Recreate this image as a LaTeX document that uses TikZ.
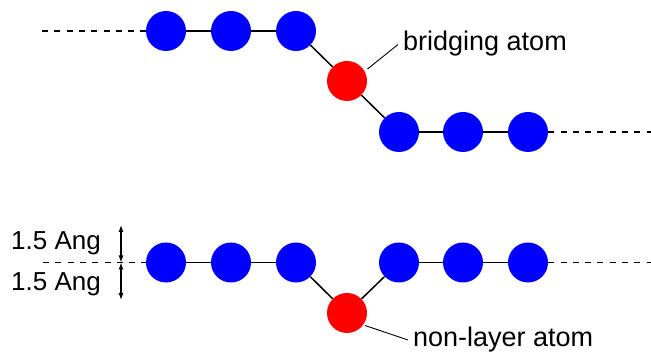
\documentclass[tikz,border=0pt]{standalone}
\usepackage{fontspec}
\setmainfont{Liberation Sans}
\usetikzlibrary{arrows.meta}
\tikzset{
  atom/.style={circle, fill=blue, draw=none, minimum size=40pt, inner sep=0pt},
  redatom/.style={atom, fill=red},
  bond/.style={line width=1.5pt},
  dashbond/.style={line width=1.5pt, dash pattern=on 6pt off 6.3pt},
  leader/.style={line width=0.9pt},
  lbl/.style={inner sep=0pt, anchor=base west, font=\fontsize{27}{32}\selectfont},
  dim/.style={line width=1.2pt, {Latex[length=7pt,width=5pt]}-{Latex[length=7pt,width=5pt]}}
}
\begin{document}
\begin{tikzpicture}[x=1pt,y=-1pt]
\useasboundingbox (0,0) rectangle (651,352);
% top structure
\node[atom] (a1) at (166,31) {};
\node[atom] (a2) at (231,31) {};
\node[atom] (a3) at (296,31) {};
\node[redatom] (r1) at (347,81) {};
\node[atom] (a4) at (399,132) {};
\node[atom] (a5) at (463,132) {};
\node[atom] (a6) at (528,132) {};
\coordinate (tl) at (42,31);
\coordinate (tr) at (651,132);
\draw[bond] (a1) -- (a2);
\draw[bond] (a2) -- (a3);
\draw[bond] (a3) -- (r1);
\draw[bond] (r1) -- (a4);
\draw[bond] (a4) -- (a5);
\draw[bond] (a5) -- (a6);
\draw[dashbond] (tl) -- (a1);
\draw[dashbond] (a6) -- (tr);
\node[lbl] (lb1) at (403,51) {bridging atom};
\coordinate (lb1e) at (398,44.5);
\coordinate (r1e) at (367.5,69);
\draw[leader] (r1e) -- (lb1e);
% bottom structure
\node[atom] (b1) at (166,262.5) {};
\node[atom] (b2) at (231,262.5) {};
\node[atom] (b3) at (296,262.5) {};
\node[redatom] (r2) at (347,313) {};
\node[atom] (b4) at (399,262.5) {};
\node[atom] (b5) at (463,262.5) {};
\node[atom] (b6) at (528,262.5) {};
\coordinate (bl) at (43,262.5);
\coordinate (br) at (651,262.5);
\draw[bond] (b1) -- (b2);
\draw[bond] (b2) -- (b3);
\draw[bond] (b3) -- (r2);
\draw[bond] (r2) -- (b4);
\draw[bond] (b4) -- (b5);
\draw[bond] (b5) -- (b6);
\draw[dashbond] (bl) -- (b1);
\draw[dashbond] (b6) -- (br);
\node[lbl] (lb2) at (413,347) {non-layer atom};
\coordinate (lb2e) at (408,340);
\coordinate (r2e) at (365,325.5);
\draw[leader] (r2e) -- (lb2e);
% dimension arrows
\coordinate (d0) at (121,225);
\coordinate (d1) at (121,262.5);
\coordinate (d2) at (121,300);
\draw[dim] (d0) -- (d1);
\draw[dim] (d1) -- (d2);
\node[lbl, font=\fontsize{26}{31}\selectfont] (ang1) at (11,250) {1.5 Ang};
\node[lbl, font=\fontsize{26}{31}\selectfont] (ang2) at (11,291) {1.5 Ang};
\end{tikzpicture}
\end{document}
